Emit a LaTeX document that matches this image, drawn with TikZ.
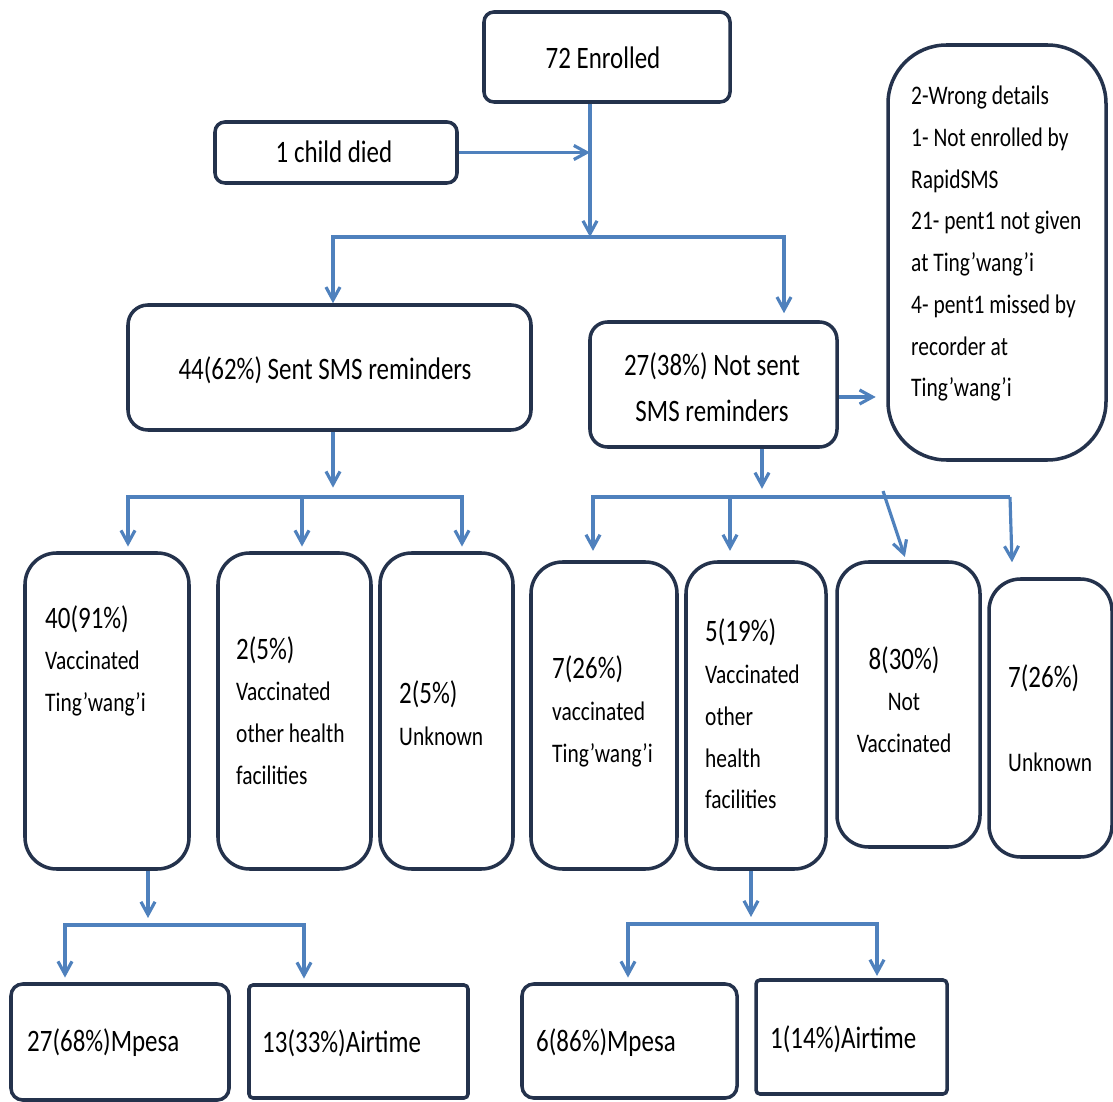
\documentclass[tikz,border=0pt]{standalone}
\usepackage{fontspec}
\usepackage{graphicx}
\setmainfont{Carlito}
\usetikzlibrary{arrows.meta,calc}
\newcommand\pxu{0.03cm}
\definecolor{boxc}{RGB}{36,50,76}
\definecolor{linec}{RGB}{79,129,189}
\newcommand\bigf{\fontsize{21.3}{28.5}\selectfont}
\newcommand\smf{\fontsize{18.3}{28.5}\selectfont}
\newcommand\ys[1]{\scalebox{1}[1.25]{#1}}
\tikzset{
  box/.style={draw=boxc, line width=3pt, rounded corners=#1, inner sep=0pt},
  box/.default=8.5pt,
  conn/.style={draw=linec, line width=2.7pt, -{Straight Barb[length=11pt,width=12pt]}},
  plain/.style={draw=linec, line width=2.7pt},
  tx/.style={inner sep=0pt, anchor=west, font=\smf},
  tc/.style={inner sep=0pt, anchor=center, font=\bigf}
}
\begin{document}
\begin{tikzpicture}[x=\pxu,y=-\pxu]
\useasboundingbox (0,0) rectangle (1113,1102);
% boxes
\node[box, minimum width=246*\pxu, minimum height=90*\pxu] (enr) at (607,57) {};
\node[box, minimum width=242*\pxu, minimum height=61*\pxu] (died) at (336,152.5) {};
\node[box=17pt, minimum width=403*\pxu, minimum height=125*\pxu] (sent) at (329.5,367.5) {};
\node[box=15pt, minimum width=247*\pxu, minimum height=125*\pxu] (notsent) at (713.5,384.5) {};
\node[box=50pt, minimum width=218*\pxu, minimum height=415*\pxu] (note) at (997,252.5) {};
\node[box=27pt, minimum width=164*\pxu, minimum height=316*\pxu] (v1) at (107,711) {};
\node[box=27pt, minimum width=153*\pxu, minimum height=316*\pxu] (v2) at (294.5,711) {};
\node[box=27pt, minimum width=133*\pxu, minimum height=316*\pxu] (v3) at (446.5,711) {};
\node[box=27pt, minimum width=146*\pxu, minimum height=307*\pxu] (w1) at (604,715.5) {};
\node[box=27pt, minimum width=140*\pxu, minimum height=307*\pxu] (w2) at (756,715.5) {};
\node[box=27pt, minimum width=143*\pxu, minimum height=285*\pxu] (w3) at (908.5,704.5) {};
\node[box=27pt, minimum width=123*\pxu, minimum height=278*\pxu] (w4) at (1050.5,718) {};
\node[box=10pt, minimum width=218*\pxu, minimum height=116*\pxu] (m1) at (120,1042) {};
\node[box=3.4pt, minimum width=219*\pxu, minimum height=113*\pxu] (a1) at (358.5,1041.5) {};
\node[box=10pt, minimum width=215*\pxu, minimum height=114*\pxu] (m2) at (629.5,1041) {};
\node[box=3.4pt, minimum width=191*\pxu, minimum height=114*\pxu] (a2) at (851.5,1037) {};
% texts
\node[tc] (tE) at (603,58) {\ys{72 Enrolled}};
\node[tc] (tD) at (334,152) {\ys{1 child died}};
\node[tc] (tS) at (325,370) {\ys{44(62\%) Sent SMS reminders}};
\node[tc] (tN) at (712,390) {\ys{\begin{tabular}{@{}c@{}}27(38\%) Not sent\\[3pt] SMS reminders\end{tabular}}};
\node[tx] (tNote) at (911,242.5) {\ys{\begin{tabular}{@{}l@{}}2-Wrong details\\ 1- Not enrolled by\\ RapidSMS\\ 21- pent1 not given\\ at Ting’wang’i\\ 4- pent1 missed by\\ recorder at\\ Ting’wang’i\end{tabular}}};
\node[tx] (tv1) at (45,661.5) {\ys{\begin{tabular}{@{}l@{}}\bigf 40(91\%)\\ Vaccinated\\ Ting’wang’i\end{tabular}}};
\node[tx] (tv2) at (236,713.5) {\ys{\begin{tabular}{@{}l@{}}\bigf 2(5\%)\\ Vaccinated\\ other health\\ facilities\end{tabular}}};
\node[tx] (tv3) at (399,716.5) {\ys{\begin{tabular}{@{}l@{}}\bigf 2(5\%)\\ Unknown\end{tabular}}};
\node[tx] (tw1) at (552,712) {\ys{\begin{tabular}{@{}l@{}}\bigf 7(26\%)\\ vaccinated\\ Ting’wang’i\end{tabular}}};
\node[tx] (tw2) at (705,717) {\ys{\begin{tabular}{@{}l@{}}\bigf 5(19\%)\\ Vaccinated\\ other\\ health\\ facilities\end{tabular}}};
\node[inner sep=0pt, font=\smf] (tw3) at (904,702.5) {\ys{\begin{tabular}{@{}c@{}}\bigf 8(30\%)\\ Not\\ Vaccinated\end{tabular}}};
\node[tx] (tw4) at (1008,721) {\ys{\begin{tabular}{@{}l@{}}\bigf 7(26\%)\\ \\ Unknown\end{tabular}}};
\node[tx, font=\bigf] (tm1) at (27,1043) {\ys{27(68\%)Mpesa}};
\node[tx, font=\bigf] (ta1) at (262,1043) {\ys{13(33\%)Airtime}};
\node[tx, font=\bigf] (tm2) at (536,1043) {\ys{6(86\%)Mpesa}};
\node[tx, font=\bigf] (ta2) at (770,1039) {\ys{1(14\%)Airtime}};
% junctions
\coordinate (j1) at (590,237);
\coordinate (j2) at (333,497);
\coordinate (j3) at (762,497);
\coordinate (j4) at (148,925);
\coordinate (j5) at (751,924);
% top connectors
\coordinate (enrout) at ($(enr.south)+(-17,0)$);
\draw[conn] (enrout) -- (j1);
\draw[conn] (died.east) -- (died.east -| j1);
\coordinate (sentin) at ($(sent.north)+(3.5,0)$);
\coordinate (nsin) at ($(notsent.north)+(70.5,0)$);
\draw[conn] (j1) -| (sentin);
\draw[conn, shorten >=6pt] (j1) -| (nsin);
\coordinate (nsr) at ($(notsent.east)+(0,12.5)$);
\draw[conn, shorten >=9pt] (nsr) -- (nsr -| note.west);
% sent branch
\coordinate (sentout) at ($(sent.south)+(3.5,0)$);
\draw[conn, shorten >=8pt] (sentout) -- (j2);
\coordinate (v1in) at ($(v1.north)+(21,0)$);
\coordinate (v2in) at ($(v2.north)+(7.5,0)$);
\coordinate (v3in) at ($(v3.north)+(15.5,0)$);
\draw[conn, shorten >=4pt] (j2) -| (v1in);
\draw[conn, shorten >=4pt] (j2) -| (v3in);
\draw[conn, shorten >=4pt] (v2in |- j2) -- (v2in);
% not sent branch
\coordinate (nsout) at ($(notsent.south)+(48.5,0)$);
\draw[conn, shorten >=7pt] (nsout) -- (j3);
\coordinate (w1in) at ($(w1.north)+(-11,0)$);
\coordinate (w2in) at ($(w2.north)+(-26,0)$);
\coordinate (w3in) at ($(w3.north)+(-2.5,0)$);
\coordinate (w4in) at ($(w4.north)+(-38.5,-15)$);
\coordinate (w4from) at ($(w4in |- j3)+(-2,0)$);
\coordinate (w3from) at ($(w3in |- j3)+(-23,-6)$);
\draw[conn, shorten >=8pt] (j3) -| (w1in);
\draw[conn, shorten >=8pt] (w2in |- j3) -- (w2in);
\draw[plain] (j3) -- (w4from);
\draw[conn] (w4from) -- (w4in);
\draw[conn, shorten >=3pt] (w3from) -- (w3in);
% bottom branches
\coordinate (v1out) at ($(v1.south)+(41,0)$);
\draw[conn, shorten >=6pt] (v1out) -- (j4);
\coordinate (m1in) at ($(m1.north)+(-55,0)$);
\coordinate (a1in) at ($(a1.north)+(-54.5,0)$);
\draw[conn, shorten >=4pt] (j4) -| (m1in);
\draw[conn, shorten >=4pt] (j4) -| (a1in);
\coordinate (w2out) at ($(w2.south)+(-5,0)$);
\draw[conn, shorten >=6pt] (w2out) -- (j5);
\coordinate (m2in) at ($(m2.north)+(-1.5,0)$);
\coordinate (a2in) at ($(a2.north)+(25.5,0)$);
\draw[conn, shorten >=4pt] (j5) -| (m2in);
\draw[conn, shorten >=2pt] (j5) -| (a2in);
\end{tikzpicture}
\end{document}
